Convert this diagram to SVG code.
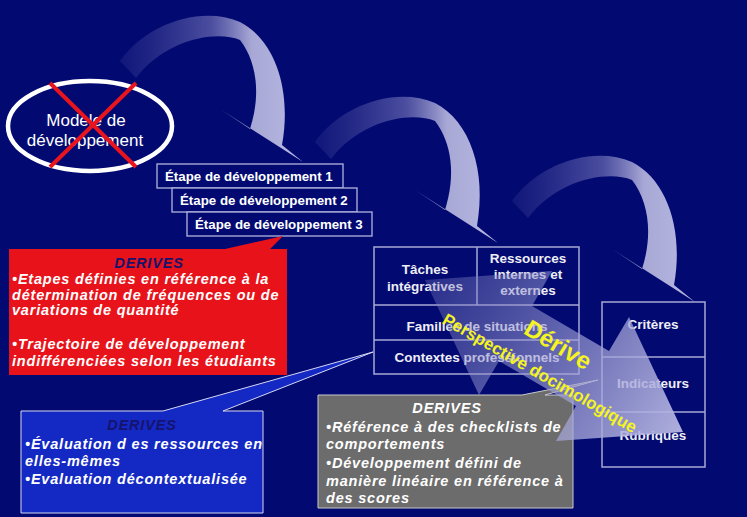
<svg xmlns="http://www.w3.org/2000/svg" width="747" height="517" viewBox="0 0 747 517">
<defs>
<linearGradient id="ribbon" x1="0" y1="0" x2="1" y2="0">
<stop offset="0" stop-color="#4a4a9c" stop-opacity="0.2"/>
<stop offset="0.5" stop-color="#7474b8" stop-opacity="0.65"/>
<stop offset="0.72" stop-color="#a8a8d6" stop-opacity="1"/>
<stop offset="1" stop-color="#b8b8e2" stop-opacity="1"/>
</linearGradient>
<linearGradient id="big" gradientUnits="userSpaceOnUse" x1="430" y1="283" x2="680" y2="430">
<stop offset="0" stop-color="#7878bc" stop-opacity="0.35"/>
<stop offset="0.45" stop-color="#9c9cd4" stop-opacity="0.6"/>
<stop offset="1" stop-color="#b6b6e2" stop-opacity="0.95"/>
</linearGradient>
<path id="curv" d="M -183,-101 C -158,-137 -103,-157 -63,-140 C -28,-122 -11,-72 -21,-17 L 0,0 L -83,-53 L -53,-33 C -42,-67 -46,-100 -63,-122 C -88,-132 -138,-122 -167,-84 Z"/>
</defs>
<style>
.bg{fill:#020a72}
.box{fill:#020a72;stroke:#b4b4dc;stroke-width:1.3}
.tbl{fill:none;stroke:#a8a8d4;stroke-width:1.5}
.et{font-family:"Liberation Sans",Arial,sans-serif;font-weight:bold;font-size:13.3px;fill:#ffffff}
.tt{font-family:"Liberation Sans",Arial,sans-serif;font-weight:bold;font-size:13.5px;fill:#eeeef4;text-anchor:middle}
.cal{font-family:"Liberation Sans",Arial,sans-serif;font-weight:bold;font-style:italic;font-size:14.5px;letter-spacing:0.8px;fill:#ffffff}
.hd{font-family:"Liberation Sans",Arial,sans-serif;font-weight:bold;font-style:italic;font-size:14.5px;letter-spacing:0.8px;text-anchor:middle}
.yl{font-family:"Liberation Sans",Arial,sans-serif;font-weight:bold;fill:#f4f422;text-anchor:middle}
</style>
<rect class="bg" x="0" y="0" width="747" height="517"/>

<g id="connectors">
<use href="#curv" transform="translate(303,162)" fill="url(#ribbon)"/>
<use href="#curv" transform="translate(498,243)" fill="url(#ribbon)"/>
<use href="#curv" transform="translate(695,302)" fill="url(#ribbon)"/>
</g>

<g id="modele">
<ellipse cx="90" cy="126" rx="82" ry="45" fill="none" stroke="#ffffff" stroke-width="4.5"/>
<text x="86" y="126" font-family="'Liberation Sans',Arial,sans-serif" font-size="17" fill="#ffffff" text-anchor="middle">Modele de</text>
<text x="85" y="146" font-family="'Liberation Sans',Arial,sans-serif" font-size="17" fill="#ffffff" text-anchor="middle">développement</text>
<line x1="50" y1="83" x2="136" y2="167" stroke="#e8141e" stroke-width="4"/>
<line x1="136" y1="83" x2="50" y2="167" stroke="#e8141e" stroke-width="4"/>
</g>

<g id="etape1">
<rect class="box" x="157" y="164" width="186" height="24"/>
<text class="et" x="165" y="181">Étape de développement 1</text>
</g>
<g id="etape2">
<rect class="box" x="172" y="188" width="185" height="24"/>
<text class="et" x="180" y="205">Étape de développement 2</text>
</g>
<g id="etape3">
<rect class="box" x="187" y="212" width="185" height="24"/>
<text class="et" x="195" y="229">Étape de développement 3</text>
</g>

<g id="table-mid">
<rect x="374" y="247" width="205" height="127" fill="#020a72"/>
<path class="tbl" d="M374,247 H579 V374 H374 Z M374,305 H579 M374,340 H579 M477,247 V305"/>
<text class="tt" x="425" y="274">Tâches</text>
<text class="tt" x="425" y="291">intégratives</text>
<text class="tt" x="528" y="263">Ressources</text>
<text class="tt" x="528" y="279">internes et</text>
<text class="tt" x="528" y="295">externes</text>
<text class="tt" x="477" y="331">Familles de situations</text>
<text class="tt" x="477" y="362">Contextes professionnels</text>
</g>

<g id="table-right">
<rect x="602" y="302" width="103" height="165" fill="#020a72"/>
<path class="tbl" d="M602,302 H705 V467 H602 Z M602,357 H705 M602,412 H705"/>
<text class="tt" x="653" y="329">Critères</text>
<text class="tt" x="653" y="388">Indicateurs</text>
<text class="tt" x="653" y="440">Rubriques</text>
</g>

<g id="derives-red">
<path d="M9,249 H225 L283,236 L270,249 H287 V375 H9 Z" fill="#e8121a"/>
<text class="hd" x="149" y="268" fill="#14146e">DERIVES</text>
<text class="cal" x="12" y="284">•Etapes définies en référence à la</text>
<text class="cal" x="12" y="300">détermination de fréquences ou de</text>
<text class="cal" x="12" y="315">variations de quantité</text>
<text class="cal" x="12" y="349">•Trajectoire de développement</text>
<text class="cal" x="12" y="366">indifférenciées selon les étudiants</text>
</g>

<g id="derives-blue">
<path d="M21,411 H163 L373,352 L223,411 H263 V513 H21 Z" fill="#1428c4" stroke="#d8d8f0" stroke-width="1"/>
<text class="hd" x="142" y="430" fill="#14146e">DERIVES</text>
<text class="cal" x="25" y="449">•Évaluation d es ressources en</text>
<text class="cal" x="25" y="466">elles-mêmes</text>
<text class="cal" x="25" y="484">•Evaluation décontextualisée</text>
</g>

<g id="derives-gray">
<path d="M318,395 H522 L598,380 L545,395 H573 V508 H318 Z" fill="#6c6c6c" stroke="#c8c8c8" stroke-width="1"/>
<text class="hd" x="447" y="413" fill="#ffffff">DERIVES</text>
<text class="cal" x="326" y="432">•Référence à des checklists de</text>
<text class="cal" x="326" y="449">comportements</text>
<text class="cal" x="326" y="468">•Développement défini de</text>
<text class="cal" x="326" y="486">manière linéaire en référence à</text>
<text class="cal" x="326" y="503">des scores</text>
</g>

<g id="derive-arrow">
<polygon points="425,280 552,271 532,306 609,351 629,317 683,432 556,441 576,406 499,361 479,395" fill="url(#big)"/>
<text class="yl" font-size="24" x="558" y="353" transform="rotate(31 558 345)">Dérive</text>
<text class="yl" font-size="17" x="540" y="379" transform="rotate(30 540 373)">Perspective docimologique</text>
</g>
</svg>
